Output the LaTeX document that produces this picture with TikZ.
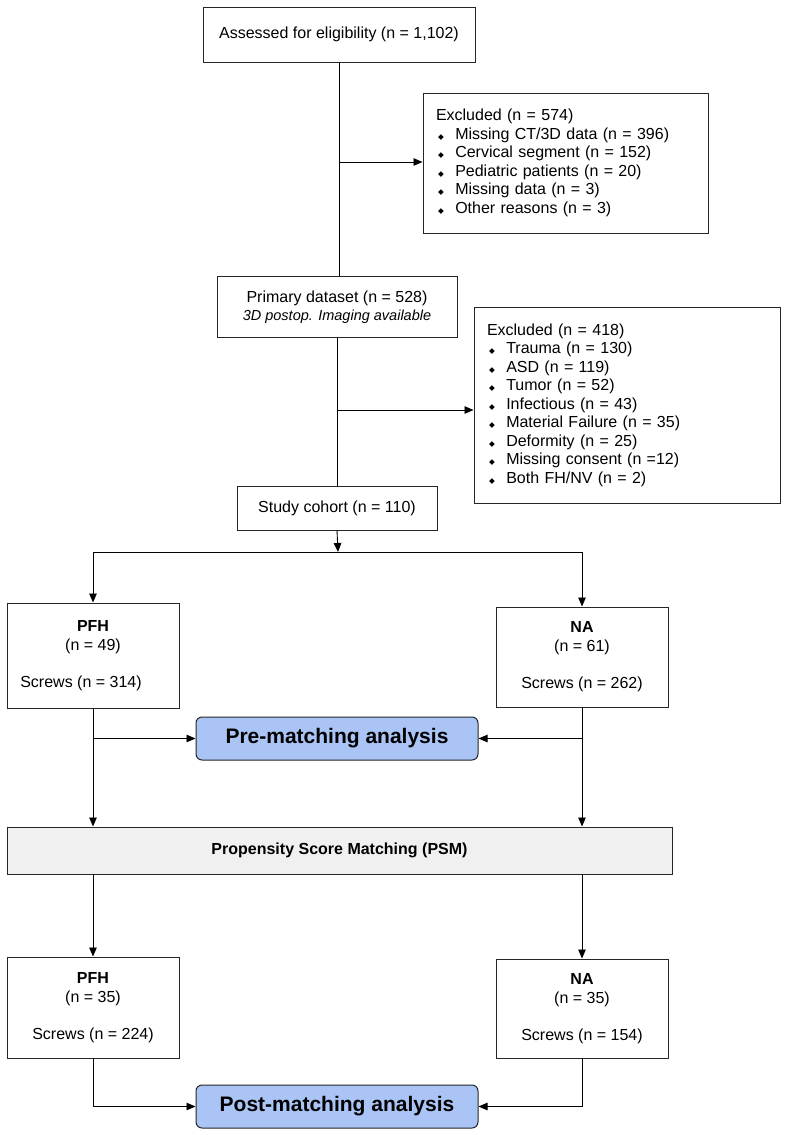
\documentclass[tikz,border=0pt]{standalone}
\usepackage{fontspec}
\setmainfont{Liberation Sans}
\newfontfamily\symfont{DejaVu Sans}
\usepackage{xcolor}
\usetikzlibrary{arrows.meta, positioning, calc}

\definecolor{analysisblue}{HTML}{A9C4F5}
\definecolor{psmgray}{HTML}{F0F0F0}
\newcommand{\dmd}{{\symfont\fontsize{7.5}{7.5}\selectfont ◆}}
\newcommand{\itm}{\hspace*{2pt}\dmd\hspace*{11.5pt}}

\begin{document}
\begin{tikzpicture}[x=1pt, y=-1pt, font=\fontsize{16}{18.5}\selectfont]
\tikzstyle{box} = [rectangle, draw=black!85, line width=1pt, inner sep=0pt, text centered, align=center]
\tikzstyle{excl} = [box, align=left]
\tikzstyle{group} = [box, minimum width=172pt, font=\fontsize{16}{19}\selectfont]
\tikzstyle{analysis} = [rectangle, rounded corners=6pt, draw=black!85, line width=1pt, fill=analysisblue,
    minimum width=282pt, minimum height=43pt, font=\bfseries\fontsize{21}{23}\selectfont]
\tikzstyle{arrow} = [line width=0.9pt, -{Triangle[length=9pt,width=7.5pt]}]
\tikzstyle{line} = [line width=0.9pt]

\useasboundingbox (0,0) rectangle (790,1135);

% screening
\node (assess) [box, minimum width=272pt, minimum height=55pt] at (339,34.5) {Assessed for eligibility (n = 1,102)};
\node (excl1) [excl, minimum width=285pt, minimum height=140pt, text width=259pt] at (565.5,163)
    {Excluded (n = 574)\\
     \itm Missing CT/3D data (n = 396)\\
     \itm Cervical segment (n = 152)\\
     \itm Pediatric patients (n = 20)\\
     \itm Missing data (n = 3)\\
     \itm Other reasons (n = 3)};
\node (primary) [box, minimum width=240pt, minimum height=61pt] at (337,307)
    {Primary dataset (n = 528)\\[-1pt] {\itshape\fontsize{14.5}{16}\selectfont 3D postop. Imaging available}};
\node (excl2) [excl, minimum width=306pt, minimum height=196pt, text width=280pt] at (627,405)
    {Excluded (n = 418)\\
     \itm Trauma (n = 130)\\
     \itm ASD (n = 119)\\
     \itm Tumor (n = 52)\\
     \itm Infectious (n = 43)\\
     \itm Material Failure (n = 35)\\
     \itm Deformity (n = 25)\\
     \itm Missing consent (n =12)\\
     \itm Both FH/NV (n = 2)};
\node (cohort) [box, minimum width=200pt, minimum height=44pt] at (337,508) {Study cohort (n = 110)};

% groups before matching
\node (pfhA) [group, minimum height=105pt] at (93,655.5) {{\bfseries PFH}\\(n = 49)\\[18pt]Screws (n = 314)\hspace*{24pt}};
\node (naA) [group, minimum height=100pt] at (582,657) {{\bfseries NA}\\(n = 61)\\[18pt]Screws (n = 262)};
\node (pre) [analysis] at (337,738.5) {Pre-matching analysis};
\node (psm) [box, fill=psmgray, minimum width=665pt, minimum height=47pt, font=\bfseries\fontsize{16}{18}\selectfont] at (339.5,850.5) {Propensity Score Matching (PSM)};

% groups after matching
\node (pfhB) [group, minimum height=101pt] at (93,1007.5) {{\bfseries PFH}\\(n = 35)\\[18pt]Screws (n = 224)};
\node (naB) [group, minimum height=99pt] at (582,1008.5) {{\bfseries NA}\\(n = 35)\\[18pt]Screws (n = 154)};
\node (post) [analysis] at (337,1106.5) {Post-matching analysis};

\coordinate (tap1) at (339,162);
\coordinate (tap2) at (338,410);
\coordinate (split) at (338,552);

\draw [line] (assess.south) -- (assess.south |- primary.north);
\draw [arrow] (tap1) -- (tap1 -| excl1.west);
\draw [line] (primary.south) -- (cohort.north);
\draw [arrow] (tap2) -- (tap2 -| excl2.west);
\draw [arrow] (cohort.south) -- (split);
\draw [line] (pfhA.north |- split) -- (naA.north |- split);
\draw [arrow] (pfhA.north |- split) -- (pfhA.north);
\draw [arrow] (naA.north |- split) -- (naA.north);

\draw [arrow] (pfhA.south |- pre.west) -- (pre.west);
\draw [arrow] (naA.south |- pre.east) -- (pre.east);
\draw [arrow] (pfhA.south) -- (pfhA.south |- psm.north);
\draw [arrow] (naA.south) -- (naA.south |- psm.north);
\draw [arrow] (pfhA.south |- psm.south) -- (pfhB.north);
\draw [arrow] (naA.south |- psm.south) -- (naB.north);
\draw [arrow] (pfhB.south) |- (post.west);
\draw [arrow] (naB.south) |- (post.east);

\end{tikzpicture}
\end{document}
